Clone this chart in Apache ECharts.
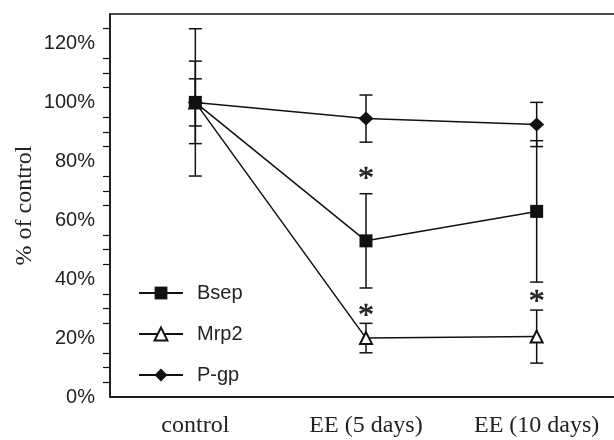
<!DOCTYPE html>
<html>
<head>
    <meta charset="utf-8">
    <title>% of control</title>
    <script src="https://cdn.jsdelivr.net/npm/echarts@6/dist/echarts.min.js"></script>
</head>
<body style="margin:0;background:#fff">
    <div id="chart" style="width:614px;height:440px"></div>
    <script type="text/javascript">
        var categories = ['control', 'EE (5 days)', 'EE (10 days)'];
        var bsep = [100, 53, 63];
        var bsepErr = [14, 16, 24];
        var mrp2 = [100, 20, 20.5];
        var mrp2Err = [25, 5, 9];
        var pgp = [100, 94.5, 92.5];
        var pgpErr = [8, 8, 7.5];
        // asterisks (significance marks)
        var starX = [1, 1, 2];
        var starY = [76, 29.5, 34.5];
        var yTicks = [0, 20, 40, 60, 80, 100, 120];

        var myChart = echarts.init(document.getElementById('chart'));

        function errData(vals, errs) {
            var out = [];
            for (var i = 0; i < vals.length; i++) {
                out.push([i, vals[i] - errs[i], vals[i] + errs[i]]);
            }
            return out;
        }
        var errAll = errData(bsep, bsepErr).concat(errData(mrp2, mrp2Err), errData(pgp, pgpErr));
        var stars = [];
        for (var i = 0; i < starX.length; i++) stars.push([starX[i], starY[i]]);

        function renderErr(params, api) {
            var x = api.value(0);
            var lo = api.coord([x, api.value(1)]);
            var hi = api.coord([x, api.value(2)]);
            var hw = 6.5;
            var st = {stroke: '#111', lineWidth: 1.5};
            return {
                type: 'group',
                children: [
                    {type: 'line', shape: {x1: lo[0], y1: lo[1], x2: hi[0], y2: hi[1]}, style: st},
                    {type: 'line', shape: {x1: lo[0] - hw, y1: lo[1], x2: lo[0] + hw, y2: lo[1]}, style: st},
                    {type: 'line', shape: {x1: hi[0] - hw, y1: hi[1], x2: hi[0] + hw, y2: hi[1]}, style: st}
                ]
            };
        }

        function renderStar(params, api) {
            var p = api.coord([api.value(0), api.value(1)]);
            return {
                type: 'text',
                x: p[0],
                y: p[1] + 7,
                style: {
                    text: '*',
                    fontFamily: 'Liberation Serif',
                    fontSize: 32,
                    fill: '#222',
                    stroke: '#222',
                    lineWidth: 0.6,
                    align: 'center',
                    verticalAlign: 'middle'
                }
            };
        }

        var option = {
            animation: false,
            grid: {
                left: 110, top: 14, bottom: 43, width: 512,
                outerBoundsMode: 'none',
                show: true, borderColor: '#111', borderWidth: 1.5
            },
            legend: {
                orient: 'vertical',
                left: 133,
                top: 278,
                itemWidth: 44,
                itemHeight: 16,
                itemGap: 21,
                data: ['Bsep', 'Mrp2', 'P-gp'],
                textStyle: {
                    fontFamily: 'Liberation Sans',
                    fontSize: 20,
                    lineHeight: 20,
                    color: '#222',
                    padding: [0, 0, 0, 9]
                }
            },
            xAxis: {
                type: 'category',
                data: categories,
                boundaryGap: true,
                axisLine: {lineStyle: {color: '#111', width: 1.5}},
                axisTick: {length: 7, lineStyle: {color: '#111', width: 1.5}},
                axisLabel: {
                    fontFamily: 'Liberation Serif',
                    fontSize: 24,
                    color: '#222',
                    margin: 17
                }
            },
            yAxis: {
                type: 'value',
                min: 0,
                max: 130,
                interval: 20,
                name: '% of control',
                nameLocation: 'middle',
                nameGap: 73,
                nameMoveOverlap: false,
                nameTextStyle: {fontFamily: 'Liberation Serif', fontSize: 24, color: '#222'},
                splitLine: {show: false},
                axisLine: {show: true, lineStyle: {color: '#111', width: 1.5}},
                axisTick: {length: 12, lineStyle: {color: '#111', width: 1.5}},
                minorTick: {show: true, splitNumber: 4, length: 7, lineStyle: {color: '#111', width: 1.2}},
                axisLabel: {
                    fontFamily: 'Liberation Sans',
                    fontSize: 20,
                    color: '#222',
                    margin: 15,
                    showMaxLabel: false,
                    formatter: function (v) {
                        return yTicks.indexOf(v) >= 0 ? v + '%' : '';
                    }
                }
            },
            series: [
                {
                    type: 'custom',
                    name: 'err',
                    renderItem: renderErr,
                    data: errAll,
                    z: 1,
                    silent: true
                },
                {
                    name: 'P-gp',
                    type: 'line',
                    data: pgp,
                    symbol: 'diamond',
                    symbolSize: [15, 14],
                    z: 2,
                    lineStyle: {color: '#111', width: 1.5},
                    itemStyle: {color: '#111'}
                },
                {
                    name: 'Mrp2',
                    type: 'line',
                    data: mrp2,
                    symbol: 'emptyTriangle',
                    symbolSize: 12,
                    z: 3,
                    lineStyle: {color: '#111', width: 1.5},
                    itemStyle: {color: '#111', borderWidth: 1.3}
                },
                {
                    name: 'Bsep',
                    type: 'line',
                    data: bsep,
                    symbol: 'rect',
                    symbolSize: 13,
                    z: 4,
                    lineStyle: {color: '#111', width: 1.5},
                    itemStyle: {color: '#111'}
                },
                {
                    type: 'custom',
                    name: 'stars',
                    renderItem: renderStar,
                    data: stars,
                    z: 5,
                    silent: true
                }
            ]
        };

        myChart.setOption(option);
    </script>
</body>
</html>
